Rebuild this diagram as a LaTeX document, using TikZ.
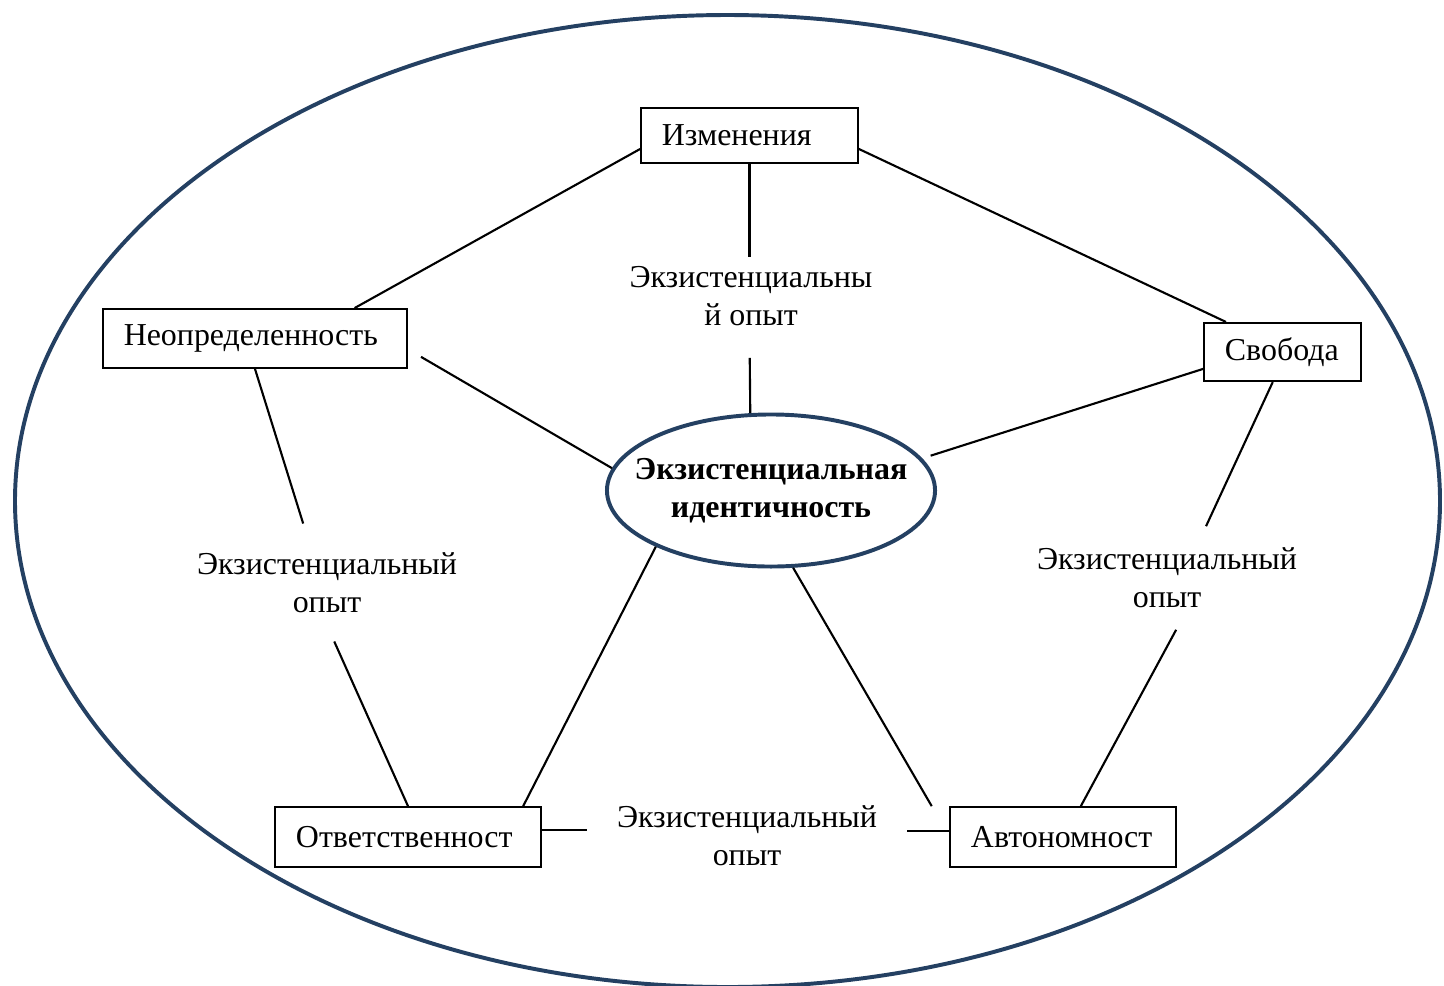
\documentclass[tikz,border=0pt]{standalone}
\usepackage{fontspec}
\setmainfont{Liberation Serif}
\usetikzlibrary{shapes.geometric}
\definecolor{navy}{RGB}{36,64,98}
\newcommand{\diagfont}{\fontsize{11.35}{13.5}\selectfont}
\tikzset{
  box/.style={draw, line width=0.6pt, inner xsep=0.26cm, inner ysep=0pt, align=left, font=\diagfont},
  tag/.style={inner sep=0pt, align=center, font=\diagfont},
  link/.style={line width=0.75pt},
}

\begin{document}
\begin{tikzpicture}[x=0.0125cm, y=-0.0125cm]
      \useasboundingbox (0,0) rectangle (1444,985);
      \draw[navy, line width=1.4pt] (727.5,501) ellipse [x radius=712.5, y radius=486];
      % centre
      \node[draw=navy, line width=1.4pt, ellipse, inner xsep=-0.4cm, inner ysep=0pt,
            minimum width=4.1cm, minimum height=1.9cm, align=center,
            font=\diagfont\bfseries] (core) at (771,490.5) {Экзистенциальная\\идентичность};
      % boxes
      \node[box, text width=2.19cm, minimum height=0.69cm] (izm) at (749.5,135.5) {Изменения};
      \node[box, text width=3.28cm, minimum height=0.74cm] (neo) at (255,338.5) {Неопределенность};
      \node[box, text width=1.44cm, minimum height=0.73cm] (svo) at (1282.5,352) {Свобода};
      \node[box, text width=2.8cm, minimum height=0.75cm] (otv) at (408,837) {Ответственност};
      \node[box, text width=2.3cm, minimum height=0.75cm] (avt) at (1063,837) {Автономност};
      % labels
      \node[tag, minimum width=3.4cm, minimum height=0.95cm] (lblA) at (751,296) {Экзистенциальны\\й опыт};
      \node[tag, minimum width=3.5cm, minimum height=1.46cm] (lblL) at (327,582.5) {Экзистенциальный\\опыт};
      \node[tag, minimum width=3.5cm, minimum height=1.28cm] (lblR) at (1167,578) {Экзистенциальный\\опыт};
      \node[tag, minimum width=3.98cm, minimum height=1.2cm] (lblB) at (747,836) {Экзистенциальный\\опыт};
      % links
      \draw[link] (izm.187) -- (neo.17);
      \draw[link] (izm.353) -- (svo.152);
      \draw[link] (izm.south) -- (izm.south |- lblA.north);
      \draw[link, shorten <=0.29cm] (izm.south |- lblA.south) -- (core.105);
      \draw[link, shorten <=0.19cm] (neo.356) -- (core.172);
      \draw[link, shorten >=0.11cm] (svo.192) -- (core.12);
      \draw[link] (neo.south) -- (lblL.112);
      \draw[link] (lblL.277) -- (otv.north);
      \draw[link] (svo.252) -- (lblR.53);
      \draw[link] (lblR.280) -- (avt.60);
      \draw[link] (core.206) -- (otv.15);
      \draw[link] (core.286) -- ([xshift=-0.22cm]avt.north west);
      \draw[link] (otv.3) -- (otv.3 -| lblB.west);
      \draw[link] (avt.177) -- (avt.177 -| lblB.east);
\end{tikzpicture}
\end{document}
